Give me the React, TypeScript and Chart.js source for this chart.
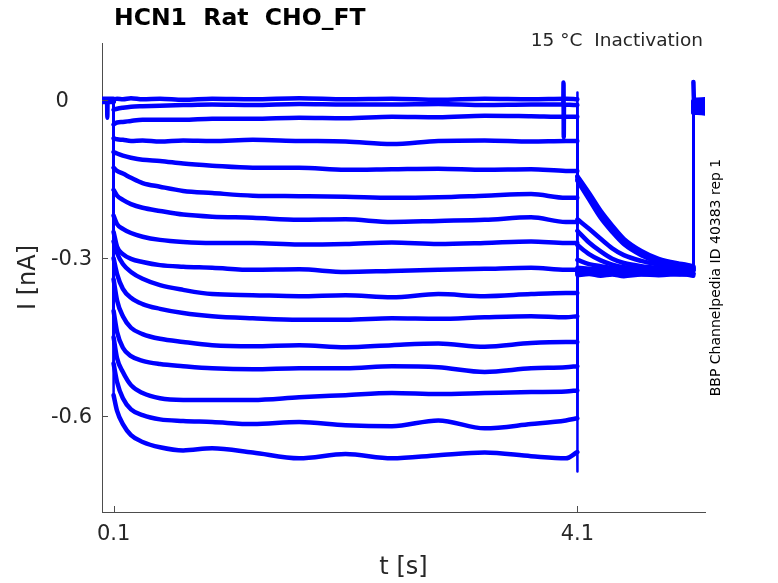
import React, { useEffect, useRef } from 'react';
import Chart from 'chart.js/auto';

// time bases (s)
const holdTimes = [0, 0.099];
const pulseTimes = [0.1, 0.13, 0.18, 0.25, 0.35, 0.5, 0.7, 0.95, 1.3, 1.7, 2.1, 2.5, 2.9, 3.3, 3.7, 4.0, 4.099];
const tailTimes = [4.1, 4.2, 4.3, 4.4, 4.5, 4.65, 4.8, 5.0, 5.099];
const postTimes = [5.1, 5.105, 5.2];

// currents (nA), one row per sweep
const holdLevels = [0.002, 0.0, -0.002, 0.003, -0.001, 0.001, -0.003, 0.002, 0.0, -0.002, 0.001, -0.001, 0.002, 0.0, -0.002, 0.001];

const pulseCurrents = [
  [0.002, 0.003, 0.002, 0.004, 0.002, 0.003, 0.001, 0.003, 0.002, 0.004, 0.002, 0.003, 0.001, 0.003, 0.002, 0.003, 0.002],
  [-0.018, -0.016, -0.014, -0.012, -0.011, -0.010, -0.009, -0.008, -0.009, -0.007, -0.008, -0.008, -0.007, -0.009, -0.008, -0.008, -0.009],
  [-0.046, -0.042, -0.041, -0.039, -0.037, -0.037, -0.037, -0.035, -0.035, -0.033, -0.034, -0.031, -0.032, -0.029, -0.030, -0.031, -0.031],
  [-0.072, -0.074, -0.075, -0.077, -0.076, -0.078, -0.076, -0.077, -0.075, -0.077, -0.078, -0.083, -0.077, -0.076, -0.078, -0.077, -0.077],
  [-0.098, -0.101, -0.105, -0.109, -0.113, -0.115, -0.120, -0.124, -0.128, -0.128, -0.132, -0.131, -0.130, -0.132, -0.131, -0.134, -0.134],
  [-0.128, -0.134, -0.139, -0.147, -0.157, -0.164, -0.172, -0.176, -0.181, -0.182, -0.183, -0.185, -0.184, -0.181, -0.178, -0.185, -0.185],
  [-0.170, -0.181, -0.189, -0.197, -0.204, -0.210, -0.217, -0.221, -0.223, -0.227, -0.226, -0.231, -0.229, -0.227, -0.222, -0.231, -0.231],
  [-0.219, -0.235, -0.244, -0.252, -0.259, -0.265, -0.269, -0.271, -0.271, -0.274, -0.273, -0.270, -0.273, -0.271, -0.268, -0.271, -0.271],
  [-0.250, -0.278, -0.292, -0.301, -0.307, -0.313, -0.316, -0.318, -0.322, -0.321, -0.326, -0.324, -0.322, -0.320, -0.318, -0.322, -0.322],
  [-0.268, -0.290, -0.311, -0.326, -0.339, -0.351, -0.360, -0.368, -0.370, -0.372, -0.370, -0.374, -0.368, -0.372, -0.368, -0.366, -0.366],
  [-0.300, -0.330, -0.358, -0.375, -0.387, -0.396, -0.404, -0.410, -0.414, -0.417, -0.417, -0.414, -0.415, -0.412, -0.410, -0.412, -0.410],
  [-0.340, -0.380, -0.410, -0.432, -0.444, -0.453, -0.459, -0.465, -0.467, -0.465, -0.469, -0.465, -0.462, -0.468, -0.461, -0.459, -0.459],
  [-0.400, -0.440, -0.470, -0.486, -0.495, -0.501, -0.505, -0.509, -0.511, -0.509, -0.509, -0.505, -0.507, -0.516, -0.509, -0.507, -0.505],
  [-0.450, -0.490, -0.516, -0.541, -0.556, -0.566, -0.569, -0.569, -0.569, -0.564, -0.560, -0.556, -0.558, -0.556, -0.554, -0.553, -0.551],
  [-0.500, -0.535, -0.566, -0.587, -0.598, -0.606, -0.609, -0.611, -0.615, -0.611, -0.617, -0.619, -0.608, -0.623, -0.615, -0.608, -0.604],
  [-0.560, -0.590, -0.615, -0.636, -0.649, -0.659, -0.665, -0.661, -0.669, -0.680, -0.672, -0.680, -0.674, -0.669, -0.676, -0.680, -0.668],
];

// capacitive peak at the step to the test pulse (t = 4.1 s)
const offsetPeakCurrents = [0.015, -0.184, -0.179, -0.188, -0.236, -0.278, -0.303, -0.314, -0.318, -0.326, -0.322, -0.320, -0.328, -0.325, -0.330, -0.705];

const tailCurrents = [
  [-0.144, -0.176, -0.210, -0.238, -0.263, -0.286, -0.301, -0.311, -0.315],
  [-0.150, -0.184, -0.219, -0.246, -0.270, -0.291, -0.305, -0.314, -0.318],
  [-0.146, -0.179, -0.213, -0.241, -0.266, -0.288, -0.303, -0.312, -0.316],
  [-0.153, -0.188, -0.223, -0.250, -0.273, -0.294, -0.307, -0.315, -0.319],
  [-0.226, -0.244, -0.263, -0.281, -0.294, -0.305, -0.312, -0.316, -0.318],
  [-0.248, -0.270, -0.287, -0.301, -0.309, -0.315, -0.318, -0.320, -0.320],
  [-0.275, -0.292, -0.304, -0.312, -0.317, -0.320, -0.322, -0.321, -0.322],
  [-0.303, -0.311, -0.315, -0.318, -0.318, -0.320, -0.319, -0.321, -0.320],
  [-0.318, -0.320, -0.322, -0.324, -0.322, -0.325, -0.323, -0.324, -0.322],
  [-0.326, -0.328, -0.325, -0.327, -0.329, -0.326, -0.328, -0.327, -0.329],
  [-0.322, -0.324, -0.321, -0.323, -0.320, -0.322, -0.324, -0.321, -0.323],
  [-0.320, -0.322, -0.319, -0.321, -0.323, -0.320, -0.322, -0.321, -0.323],
  [-0.328, -0.325, -0.327, -0.329, -0.326, -0.328, -0.325, -0.327, -0.330],
  [-0.325, -0.323, -0.326, -0.324, -0.327, -0.325, -0.323, -0.326, -0.324],
  [-0.330, -0.328, -0.331, -0.329, -0.327, -0.330, -0.328, -0.331, -0.329],
  [-0.332, -0.330, -0.333, -0.331, -0.334, -0.331, -0.332, -0.330, -0.333],
];

const postCurrents = [
  [0.035, 0.001, 0.002],
  [-0.005, -0.006, -0.004],
  [-0.012, -0.013, -0.011],
  [-0.020, -0.021, -0.019],
  [-0.003, -0.002, -0.004],
  [-0.016, -0.015, -0.017],
  [-0.008, -0.009, -0.007],
  [-0.024, -0.023, -0.025],
  [-0.001, 0.0, -0.002],
  [-0.010, -0.011, -0.009],
  [-0.018, -0.019, -0.017],
  [-0.006, -0.005, -0.007],
  [-0.014, -0.013, -0.015],
  [-0.022, -0.021, -0.023],
  [-0.004, -0.003, -0.005],
  [-0.012, -0.011, -0.013],
];

// short artefacts seen in the recording
const holdSpikeTimes = [0.044, 0.046, 0.048];
const holdSpikeCurrents = [0.001, -0.033, 0.001];
const lateSpikeTimes = [3.978, 3.98, 3.982, 3.984];
const lateSpikeCurrents = [-0.008, 0.034, -0.07, -0.008];

const xTickValues = [0.1, 4.1];
const xTickLabels = ['0.1', '4.1'];
const yTickValues = [0, -0.3, -0.6];
const yTickLabels = ['0', '-0.3', '-0.6'];

const titleText = 'HCN1  Rat  CHO_FT';
const conditionText = '15 °C  Inactivation';
const sourceText = 'BBP Channelpedia ID 40383 rep 1';
const xTitle = 't [s]';
const yTitle = 'I [nA]';

const FONT = '"DejaVu Sans", sans-serif';
const TEXT_COLOR = '#262626';
const AXIS_COLOR = '#4d4d4d';
const TRACE_COLOR = '#0000ff';
const TRACE_WIDTH = 4.5;
const STEP_WIDTH = 2.5;

type Pt = { x: number; y: number | null };

const gap = (t: number): Pt => ({ x: t, y: null });

const phase = (times: number[], values: number[], extraT: number[] = [], extraV: number[] = []) => {
  const pts: Pt[] = times.map((t, k) => ({ x: t, y: values[k] }));
  extraT.forEach((t, k) => pts.push({ x: t, y: extraV[k] }));
  return pts.sort((a, b) => a.x - b.x);
};

// smooth parts of one sweep, split at the voltage steps
const curvePoints = (i: number): Pt[] => [
  ...phase(holdTimes, holdTimes.map(() => holdLevels[i]), i === 0 ? holdSpikeTimes : [], i === 0 ? holdSpikeCurrents : []),
  gap(0.0995),
  ...phase(pulseTimes, pulseCurrents[i], i === 1 ? lateSpikeTimes : [], i === 1 ? lateSpikeCurrents : []),
  gap(4.0995),
  ...phase(tailTimes, tailCurrents[i]),
  gap(5.0995),
  ...phase(postTimes, postCurrents[i]),
];

// the vertical steps themselves, drawn straight
const stepPoints = (i: number): Pt[] => {
  const pl = pulseTimes.length - 1;
  const tl = tailTimes.length - 1;
  return [
    { x: holdTimes[1], y: holdLevels[i] },
    { x: pulseTimes[0], y: pulseCurrents[i][0] },
    gap(0.1),
    { x: pulseTimes[pl], y: pulseCurrents[i][pl] },
    { x: tailTimes[0], y: offsetPeakCurrents[i] },
    { x: tailTimes[0], y: tailCurrents[i][0] },
    gap(4.1),
    { x: tailTimes[tl], y: tailCurrents[i][tl] },
    { x: postTimes[0], y: postCurrents[i][0] },
  ];
};

// inward MATLAB-style ticks, y tick labels and the free text around the axes
const decorations = {
  id: 'decorations',
  afterDraw(chart: any) {
    const { ctx, chartArea, scales } = chart;
    ctx.save();
    ctx.strokeStyle = AXIS_COLOR;
    ctx.lineWidth = 1;
    xTickValues.forEach((v) => {
      const px = Math.round(scales.x.getPixelForValue(v)) + 0.5;
      ctx.beginPath();
      ctx.moveTo(px, chartArea.bottom);
      ctx.lineTo(px, chartArea.bottom - 6);
      ctx.stroke();
    });
    yTickValues.forEach((v) => {
      const py = Math.round(scales.y.getPixelForValue(v)) + 0.5;
      ctx.beginPath();
      ctx.moveTo(chartArea.left, py);
      ctx.lineTo(chartArea.left + 6, py);
      ctx.stroke();
    });

    // y tick labels, lined up on the decimal point
    ctx.fillStyle = TEXT_COLOR;
    ctx.font = `21px ${FONT}`;
    ctx.textAlign = 'right';
    ctx.textBaseline = 'middle';
    const labelRight = chartArea.left - 10;
    const fracWidth = ctx.measureText('.0').width;
    yTickValues.forEach((v, k) => {
      const label = yTickLabels[k];
      const right = label.includes('.') ? labelRight : labelRight - fracWidth - 3;
      ctx.fillText(label, right, scales.y.getPixelForValue(v) + 1);
    });

    ctx.fillStyle = '#000';
    ctx.font = `bold 23.5px ${FONT}`;
    ctx.textAlign = 'left';
    ctx.fillText(titleText, 114, 19);

    ctx.fillStyle = TEXT_COLOR;
    ctx.font = `18.5px ${FONT}`;
    ctx.textAlign = 'right';
    ctx.fillText(conditionText, 703, 41);

    ctx.font = `24px ${FONT}`;
    ctx.textAlign = 'center';
    ctx.fillText(xTitle, (chartArea.left + chartArea.right) / 2, 568);

    const midY = (chartArea.top + chartArea.bottom) / 2;
    ctx.save();
    ctx.translate(29, midY);
    ctx.rotate(-Math.PI / 2);
    ctx.fillText(yTitle, 0, 0);
    ctx.restore();

    ctx.save();
    ctx.fillStyle = '#000';
    ctx.font = `14px ${FONT}`;
    ctx.translate(716, midY);
    ctx.rotate(-Math.PI / 2);
    ctx.fillText(sourceText, 0, 0);
    ctx.restore();

    ctx.restore();
  },
};

const App: React.FC = () => {
  const canvasRef = useRef<HTMLCanvasElement>(null);
  const chartRef = useRef<Chart | null>(null);

  useEffect(() => {
    if (!canvasRef.current) return;
    if (chartRef.current) chartRef.current.destroy();

    const lineStyle = {
      borderColor: TRACE_COLOR,
      borderCapStyle: 'round' as const,
      borderJoinStyle: 'round' as const,
      pointRadius: 0,
      fill: false,
      spanGaps: false,
    };

    const datasets: any[] = [];
    pulseCurrents.forEach((_, i) => {
      datasets.push({ ...lineStyle, data: curvePoints(i), borderWidth: TRACE_WIDTH, cubicInterpolationMode: 'monotone' });
      datasets.push({ ...lineStyle, data: stepPoints(i), borderWidth: STEP_WIDTH, tension: 0 });
    });

    chartRef.current = new Chart(canvasRef.current, {
      type: 'line',
      data: { datasets },
      options: {
        animation: false,
        responsive: true,
        maintainAspectRatio: false,
        layout: { padding: { top: 43, right: 73, left: 0, bottom: 0 } },
        plugins: {
          legend: { display: false },
          tooltip: { enabled: false },
          title: { display: false },
        },
        scales: {
          x: {
            type: 'linear',
            min: 0,
            max: 5.2,
            afterBuildTicks: (scale: any) => {
              scale.ticks = xTickValues.map((value) => ({ value }));
            },
            afterFit: (scale: any) => {
              scale.height = 71;
            },
            grid: { display: false, drawTicks: false },
            border: { display: true, color: AXIS_COLOR, width: 1 },
            ticks: {
              autoSkip: false,
              maxRotation: 0,
              padding: 10,
              color: TEXT_COLOR,
              font: { family: FONT, size: 21 },
              callback: (value: any) => xTickLabels[xTickValues.indexOf(Number(value))] ?? '',
            },
          },
          y: {
            type: 'linear',
            min: -0.782,
            max: 0.109,
            afterBuildTicks: (scale: any) => {
              scale.ticks = yTickValues.map((value) => ({ value }));
            },
            afterFit: (scale: any) => {
              scale.width = 102;
            },
            grid: { display: false, drawTicks: false },
            border: { display: true, color: AXIS_COLOR, width: 1 },
            ticks: { display: false },
          },
        },
      },
      plugins: [decorations],
    });

    return () => {
      if (chartRef.current) {
        chartRef.current.destroy();
        chartRef.current = null;
      }
    };
  }, []);

  return (
    <div style={{ position: 'fixed', left: 0, top: 0, width: 778, height: 583, background: '#fff' }}>
      <canvas ref={canvasRef}></canvas>
    </div>
  );
};

export default App;
